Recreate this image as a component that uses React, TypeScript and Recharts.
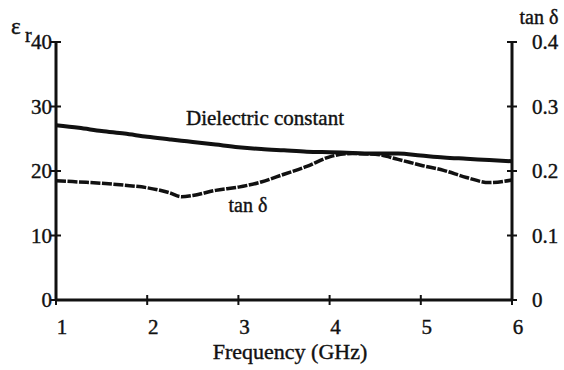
import { LineChart, Line, XAxis, YAxis } from "recharts";

// readings
const freqGHz = [1.0, 1.25, 1.5, 1.75, 2.0, 2.25, 2.375, 2.5, 2.75, 3.0, 3.25, 3.5, 3.75, 4.0, 4.25, 4.5, 4.75, 5.0, 5.25, 5.5, 5.75, 6.0];
const dielectricConst = [27.1, 26.7, 26.2, 25.8, 25.3, 24.9, 24.7, 24.5, 24.1, 23.7, 23.4, 23.2, 23.0, 22.9, 22.8, 22.7, 22.7, 22.4, 22.1, 21.9, 21.7, 21.5];
const tanDelta = [0.185, 0.183, 0.181, 0.178, 0.174, 0.166, 0.16, 0.162, 0.17, 0.175, 0.183, 0.195, 0.207, 0.222, 0.227, 0.226, 0.218, 0.209, 0.201, 0.19, 0.182, 0.186];

const freqTicks = [1, 2, 3, 4, 5, 6];
const epsTicks = [0, 10, 20, 30, 40];
const tanTicks = [0, 0.1, 0.2, 0.3, 0.4];

const W = 564;
const H = 370;
const PL = 56;
const PR = 512;
const PT = 42;
const PB = 300;
const AXW = 40; // room the y axes / x axis take
const FONT = "'Liberation Serif', 'DejaVu Serif', serif";
const INK = "#111";

const rows = freqGHz.map((f, i) => ({ f, eps: dielectricConst[i], tan: tanDelta[i] }));

const txt = { fontFamily: FONT, fontSize: 21, fill: INK, stroke: INK, strokeWidth: 0.4 };

function LeftTick(props: any) {
  const y = props.payload.coordinate;
  return (
    <g>
      <line x1={PL - 5} x2={PL + 5} y1={y} y2={y} stroke={INK} strokeWidth={2} />
      <text x={PL - 4} y={y} textAnchor="end" dominantBaseline="central" {...txt}>
        {props.payload.value}
      </text>
    </g>
  );
}

function RightTick(props: any) {
  const y = props.payload.coordinate;
  return (
    <g>
      <line x1={PR - 5} x2={PR + 5} y1={y} y2={y} stroke={INK} strokeWidth={2} />
      <text x={PR + 20} y={y} textAnchor="start" dominantBaseline="central" {...txt}>
        {props.payload.value}
      </text>
    </g>
  );
}

function BottomTick(props: any) {
  const x = props.payload.coordinate;
  return (
    <g>
      <line x1={x} x2={x} y1={PB - 5} y2={PB + 5} stroke={INK} strokeWidth={2} />
      <text x={x + 6} y={PB + 27} textAnchor="middle" dominantBaseline="central" {...txt}>
        {props.payload.value}
      </text>
    </g>
  );
}

export default function App() {
  return (
    <div style={{ position: "absolute", left: 0, top: 0, width: W, height: H, background: "#fff" }}>
      <LineChart
        width={W}
        height={H}
        data={rows}
        margin={{ top: PT, right: W - PR - AXW, bottom: H - PB - AXW, left: PL - AXW }}
      >
        <XAxis
          dataKey="f"
          type="number"
          domain={[1, 6]}
          ticks={freqTicks}
          height={AXW}
          axisLine={{ stroke: INK, strokeWidth: 3 }}
          tickLine={false}
          tick={<BottomTick />}
        />
        <YAxis
          yAxisId="eps"
          domain={[0, 40]}
          ticks={epsTicks}
          width={AXW}
          axisLine={{ stroke: INK, strokeWidth: 3 }}
          tickLine={false}
          tick={<LeftTick />}
        />
        <YAxis
          yAxisId="tan"
          orientation="right"
          domain={[0, 0.4]}
          ticks={tanTicks}
          width={AXW}
          axisLine={{ stroke: INK, strokeWidth: 3 }}
          tickLine={false}
          tick={<RightTick />}
        />
        <Line
          yAxisId="eps"
          dataKey="eps"
          type="monotone"
          stroke={INK}
          strokeWidth={4}
          dot={false}
          isAnimationActive={false}
        />
        <Line
          yAxisId="tan"
          dataKey="tan"
          type="monotone"
          stroke={INK}
          strokeWidth={3.5}
          strokeDasharray="10 1.5"
          dot={false}
          isAnimationActive={false}
        />
      </LineChart>

      {/* text labels laid over the plot */}
      <svg width={W} height={H} style={{ position: "absolute", left: 0, top: 0, pointerEvents: "none" }}>
        <g {...txt}>
          <text x={11} y={34} fontSize={23}>ε</text>
          <text x={25} y={42} fontSize={20}>r</text>
          <text x={539} y={24} fontSize={20} textAnchor="middle">tan δ</text>
          <text x={265} y={125} textAnchor="middle">Dielectric constant</text>
          <text x={248} y={212} fontSize={20} textAnchor="middle">tan δ</text>
          <text x={290} y={359} fontSize={22} textAnchor="middle">Frequency (GHz)</text>
        </g>
      </svg>
    </div>
  );
}
